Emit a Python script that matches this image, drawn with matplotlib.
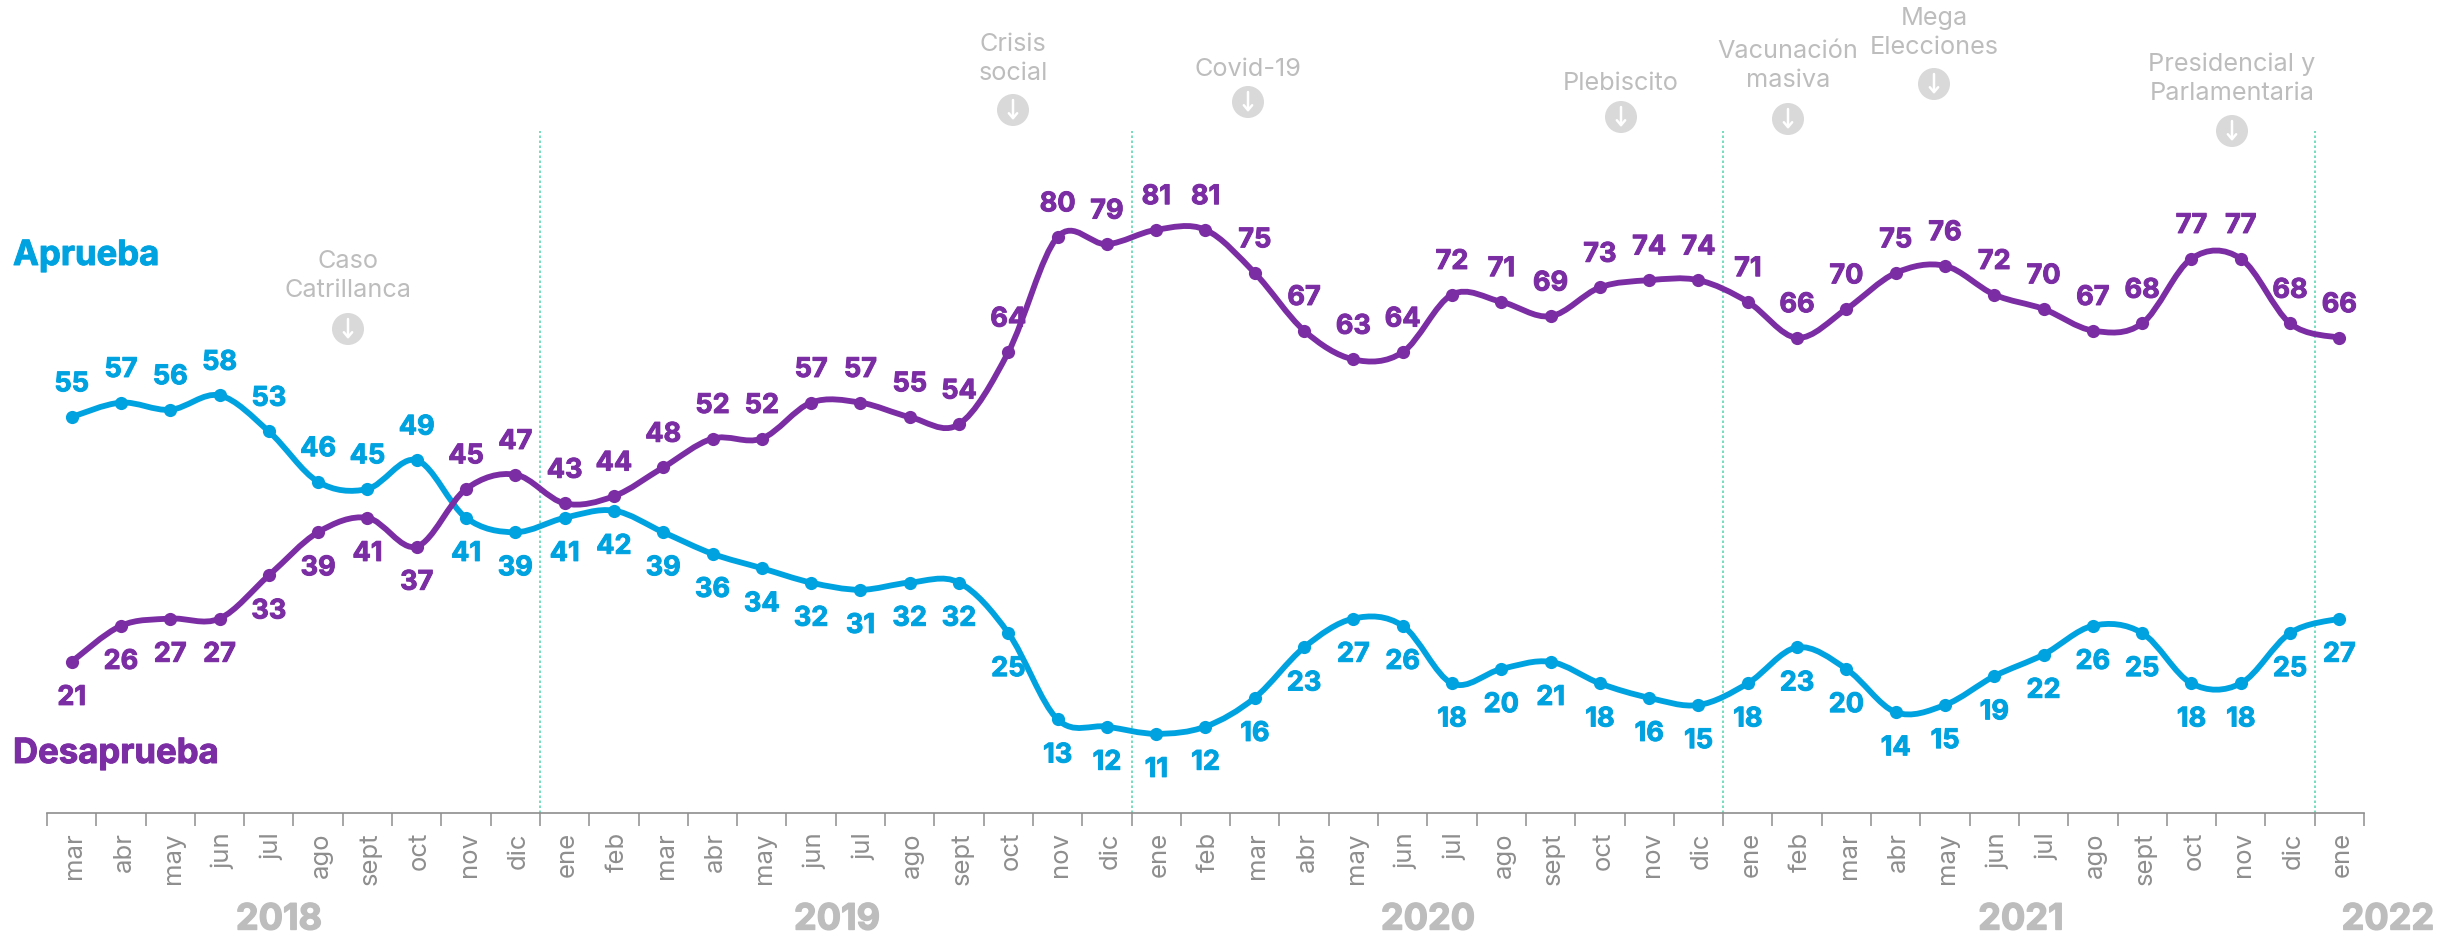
import matplotlib
matplotlib.use("Agg")
import matplotlib.pyplot as plt
import matplotlib.patheffects as pe
from matplotlib.patches import Circle, PathPatch
from matplotlib.path import Path
from matplotlib.transforms import ScaledTranslation
import numpy as np

plt.rcParams['font.family'] = ['Inter', 'DejaVu Sans']

months = ['mar', 'abr', 'may', 'jun', 'jul', 'ago', 'sept', 'oct', 'nov', 'dic',
          'ene', 'feb', 'mar', 'abr', 'may', 'jun', 'jul', 'ago', 'sept', 'oct', 'nov', 'dic',
          'ene', 'feb', 'mar', 'abr', 'may', 'jun', 'jul', 'ago', 'sept', 'oct', 'nov', 'dic',
          'ene', 'feb', 'mar', 'abr', 'may', 'jun', 'jul', 'ago', 'sept', 'oct', 'nov', 'dic',
          'ene']
aprueba = [55, 57, 56, 58, 53, 46, 45, 49, 41, 39,
           41, 42, 39, 36, 34, 32, 31, 32, 32, 25, 13, 12,
           11, 12, 16, 23, 27, 26, 18, 20, 21, 18, 16, 15,
           18, 23, 20, 14, 15, 19, 22, 26, 25, 18, 18, 25,
           27]
desaprueba = [21, 26, 27, 27, 33, 39, 41, 37, 45, 47,
              43, 44, 48, 52, 52, 57, 57, 55, 54, 64, 80, 79,
              81, 81, 75, 67, 63, 64, 72, 71, 69, 73, 74, 74,
              71, 66, 70, 75, 76, 72, 70, 67, 68, 77, 77, 68,
              66]
years = ['2018', '2019', '2020', '2021', '2022']
year_px = [279, 837, 1428, 2021, 2388]
year_breaks = [9.5, 21.5, 33.5, 45.5]

events = ['Caso\nCatrillanca', 'Crisis\nsocial', 'Covid-19', 'Plebiscito',
          'Vacunación\nmasiva', 'Mega\nElecciones', 'Presidencial y\nParlamentaria']
event_x = [348, 1013, 1248, 1621, 1788, 1934, 2232]
event_text_y = [276, 59, 69, 83, 66, 33, 79]
event_icon_y = [330, 111, 103, 118, 120, 85, 132]

BLUE = '#00A3E0'
PURPLE = '#7B2DA3'
GRID = '#5FD8B2'
GRAY = '#8E8E8E'
LIGHT = '#BDBDBD'

ABOVE = 23.5
BELOW = -26


def smooth_path(x, y):
    # catmull-rom through the points, same look as the office "smoothed line"
    p = np.column_stack([x, y]).astype(float)
    verts = [p[0]]
    codes = [Path.MOVETO]
    for i in range(len(p) - 1):
        p0 = p[max(i - 1, 0)]
        p3 = p[min(i + 2, len(p) - 1)]
        verts += [p[i] + (p[i + 1] - p0) / 6, p[i + 1] - (p3 - p[i]) / 6, p[i + 1]]
        codes += [Path.CURVE4] * 3
    return Path(verts, codes)


def heavy(col, w=0.7):
    # Inter bold is lighter than the original font, thicken it a bit
    return [pe.withStroke(linewidth=w, foreground=col)]


fig = plt.figure(figsize=(24.58, 9.37), dpi=100)
ax = fig.add_axes([47 / 2458, 123 / 937, 2317 / 2458, 814 / 937])
ax.set_xlim(-0.5, 46.5)
ax.set_ylim(0, 814 / 7.2)
ax.patch.set_alpha(0)

for s in ['top', 'left', 'right']:
    ax.spines[s].set_visible(False)
ax.spines['bottom'].set_color(GRAY)
ax.spines['bottom'].set_linewidth(1.2)
ax.set_yticks([])
x = np.arange(len(months))
ax.set_xticks(np.arange(-0.5, 47))
ax.set_xticklabels([])
ax.tick_params(axis='x', which='major', length=9, width=1.1, color=GRAY)
ax.set_xticks(x, minor=True)
ax.set_xticklabels(months, minor=True, rotation=90, fontsize=18.5, color=GRAY)
ax.tick_params(axis='x', which='minor', length=0, pad=13)
for lab in ax.get_xticklabels(minor=True):
    lab.set_transform(lab.get_transform() + ScaledTranslation(3 / 100, 0, fig.dpi_scale_trans))

ax.vlines(year_breaks, 0, 94.7, color=GRID, lw=1.2, linestyles=(0, (1.5, 1.5)))

for vals, col, z in [(aprueba, BLUE, 3), (desaprueba, PURPLE, 4)]:
    ax.add_patch(PathPatch(smooth_path(x, vals), fc='none', ec=col, lw=4.2, zorder=z))
    ax.plot(x, vals, 'o', color=col, ms=9.5, mew=0, zorder=z)

# first eight months the series sit the other way round
for i in x:
    ax.annotate(str(aprueba[i]), (i, aprueba[i]), xytext=(0, ABOVE if i < 8 else BELOW), textcoords='offset points',
                ha='center', va='center', color=BLUE, fontsize=19.5, fontweight='bold', zorder=6,
                path_effects=heavy(BLUE))
    ax.annotate(str(desaprueba[i]), (i, desaprueba[i]), xytext=(0, BELOW if i < 8 else ABOVE), textcoords='offset points',
                ha='center', va='center', color=PURPLE, fontsize=19.5, fontweight='bold', zorder=6,
                path_effects=heavy(PURPLE))

# overlay in picture pixels for the notes around the chart
over = fig.add_axes([0, 0, 1, 1])
over.set_xlim(0, 2458)
over.set_ylim(937, 0)
over.axis('off')
over.patch.set_alpha(0)

over.text(13, 257, 'Aprueba', color=BLUE, fontsize=25, fontweight='bold', va='center',
          path_effects=heavy(BLUE))
over.text(13, 755, 'Desaprueba', color=PURPLE, fontsize=25, fontweight='bold', va='center',
          path_effects=heavy(PURPLE))

for name, ex, ty, iy in zip(events, event_x, event_text_y, event_icon_y):
    over.text(ex, ty, name, color=LIGHT, fontsize=18.2, ha='center', va='center', linespacing=1.35)
    over.add_patch(Circle((ex, iy), 16, fc='#D9D9D9', ec='none'))
    over.annotate('', xy=(ex, iy + 10), xytext=(ex, iy - 10),
                  arrowprops=dict(arrowstyle='->,head_length=0.35,head_width=0.3', color='white', lw=1.8,
                                  shrinkA=0, shrinkB=0))

for name, px in zip(years, year_px):
    over.text(px, 921, name, color=LIGHT, fontsize=26, fontweight='bold', ha='center', va='center',
              path_effects=heavy(LIGHT, 1.0))

fig.savefig('out.png', dpi=100, facecolor='white')
